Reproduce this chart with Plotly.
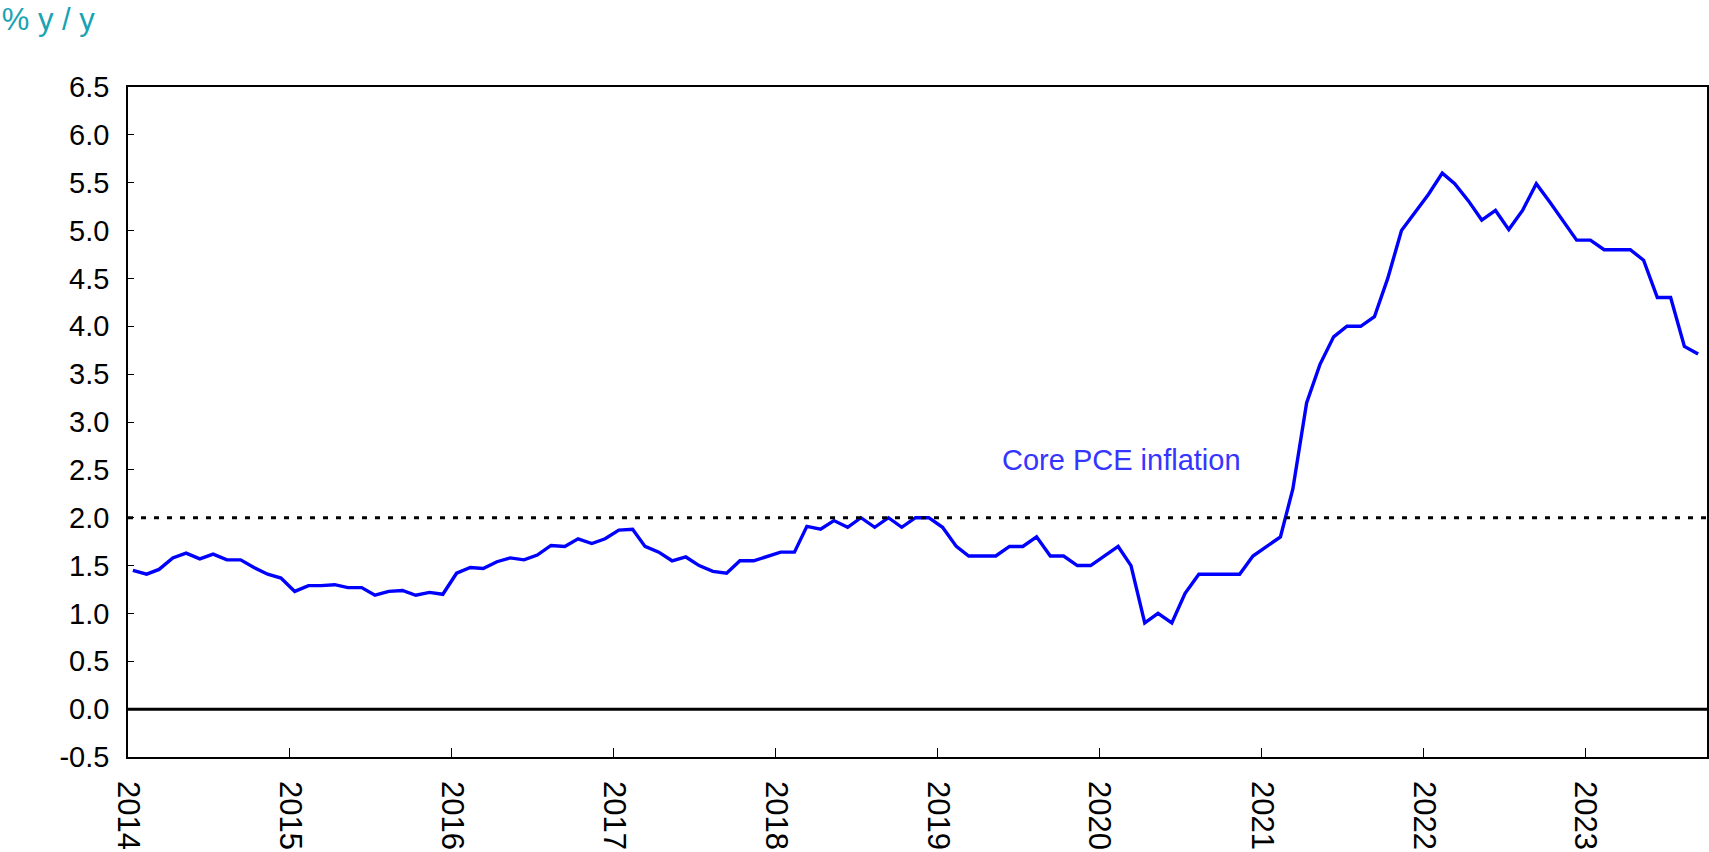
import pandas as pd
import plotly.graph_objects as go

# Monthly observations Jan 2014 .. Sep 2023
start_month = "2014-01-01"
n_months = 117
core_pce = [
    # 2014
    1.45, 1.41, 1.46, 1.58, 1.63, 1.57, 1.62, 1.56, 1.56, 1.48, 1.41, 1.37,
    # 2015
    1.23, 1.29, 1.29, 1.30, 1.27, 1.27, 1.19, 1.23, 1.24, 1.19, 1.22, 1.20,
    # 2016
    1.42, 1.48, 1.47, 1.54, 1.58, 1.56, 1.61, 1.71, 1.70, 1.78, 1.73, 1.78,
    # 2017
    1.87, 1.88, 1.70, 1.64, 1.55, 1.59, 1.50, 1.44, 1.42, 1.55, 1.55, 1.59,
    # 2018
    1.64, 1.64, 1.91, 1.88, 1.97, 1.90, 2.00, 1.90, 2.00, 1.90, 2.00, 2.00,
    # 2019
    1.90, 1.70, 1.60, 1.60, 1.60, 1.70, 1.70, 1.80, 1.60, 1.60, 1.50, 1.50,
    # 2020
    1.60, 1.70, 1.50, 0.90, 1.00, 0.90, 1.21, 1.41, 1.41, 1.41, 1.41, 1.60,
    # 2021
    1.70, 1.80, 2.30, 3.20, 3.60, 3.89, 4.00, 4.00, 4.10, 4.50, 5.00, 5.19,
    # 2022
    5.38, 5.60, 5.49, 5.31, 5.11, 5.21, 5.01, 5.21, 5.49, 5.30, 5.10, 4.90,
    # 2023
    4.90, 4.80, 4.80, 4.80, 4.69, 4.30, 4.30, 3.79, 3.71,
]
target_level = 2.0
zero_level = 0.0
year_ticks = [str(y) for y in range(2014, 2024)]
y_ticks = [-0.5, 0.0, 0.5, 1.0, 1.5, 2.0, 2.5, 3.0, 3.5, 4.0, 4.5, 5.0, 5.5, 6.0, 6.5]
y_ticktext = ["%.1f" % v for v in y_ticks]
series_label = "Core PCE inflation"
axis_title = "% y / y"

dates = pd.date_range(start=start_month, periods=n_months, freq="MS") + pd.Timedelta(days=11)

fig = go.Figure()
fig.add_trace(go.Scatter(
    x=dates, y=core_pce, mode="lines",
    line=dict(color="#0000ff", width=3.4),
    name=series_label, showlegend=False,
))

# reference lines
fig.add_shape(type="line", xref="paper", x0=0, x1=1, yref="y", y0=target_level, y1=target_level,
              line=dict(color="black", width=3, dash="5px,8px"))
fig.add_shape(type="line", xref="paper", x0=0, x1=1, yref="y", y0=zero_level, y1=zero_level,
              line=dict(color="black", width=3))

fig.add_annotation(x="2020-02-20", y=2.6, xref="x", yref="y", text=series_label,
                   showarrow=False, font=dict(family="Liberation Sans, Arial", size=29, color="#3535ff"),
                   xanchor="center", yanchor="middle")

fig.update_layout(
    width=1709, height=852,
    margin=dict(l=128, r=2, t=87, b=95),
    paper_bgcolor="white", plot_bgcolor="white",
    font=dict(family="Liberation Sans, Arial", color="black"),
    title=dict(text=axis_title, x=0.001, xref="container", xanchor="left",
               y=0.99, yref="container", yanchor="top",
               font=dict(family="Liberation Sans, Arial", size=31, color="#1aa3b3")),
)

fig.update_xaxes(
    type="date",
    range=["2014-01-01", "2023-10-02"],
    tickvals=[y + "-01-01" for y in year_ticks],
    ticktext=year_ticks,
    tickangle=90,
    ticks="inside", ticklen=9, tickwidth=1, tickcolor="black",
    showline=True, linecolor="black", linewidth=1.5, mirror=True,
    showgrid=False, zeroline=False, automargin=False,
    tickfont=dict(family="Liberation Sans, Arial", size=31, color="black"),
    ticklabelstandoff=16,
)
fig.update_yaxes(
    range=[-0.5, 6.5],
    tickvals=y_ticks, ticktext=y_ticktext,
    ticks="inside", ticklen=6, tickwidth=1, tickcolor="black",
    showline=True, linecolor="black", linewidth=1.5, mirror=True,
    showgrid=False, zeroline=False, automargin=False,
    tickfont=dict(family="Liberation Sans, Arial", size=29, color="black"),
    ticklabelstandoff=11,
)

fig.write_html("out.html", config={"displayModeBar": False},
               post_script="document.body.style.margin='0';document.body.style.overflow='hidden';")
